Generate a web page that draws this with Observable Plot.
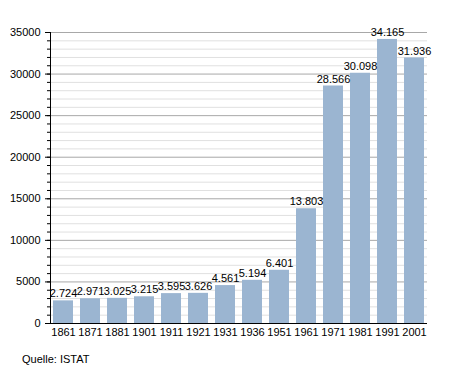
<!DOCTYPE html>
<html><head><meta charset="utf-8">
<script src="https://cdn.jsdelivr.net/npm/d3@7"></script>
<script src="https://cdn.jsdelivr.net/npm/@observablehq/plot@0.6"></script>
<style>
body{margin:0;background:#fff;font-family:"Liberation Sans",Arial,sans-serif;}
#cap{font-size:11px;margin:8px 0 0 22px;color:#000;}
</style></head>
<body><div id="chart"></div><div id="cap">Quelle: ISTAT</div>
<script>
const years = ["1861","1871","1881","1901","1911","1921","1931","1936","1951","1961","1971","1981","1991","2001"];
const population = [2724,2971,3025,3215,3595,3626,4561,5194,6401,13803,28566,30098,34165,31936];
const majorTicks = [0,5000,10000,15000,20000,25000,30000,35000];
const minorTicks = d3.range(0,35001,1000);

const data = years.map((y,i)=>({year:y,value:population[i]}));
const de = d3.formatLocale({thousands:".",grouping:[3],decimal:",",currency:["","€"]});
const fmt = de.format(",");

const chart = Plot.plot({
  width:455, height:345,
  marginLeft:50, marginRight:28, marginTop:32, marginBottom:22,
  style:{fontFamily:"Liberation Sans, Arial, sans-serif", fontSize:"11px", background:"#fff", color:"#000"},
  x:{domain:years, paddingInner:0.25, paddingOuter:0.03, label:null},
  y:{domain:[0,35000], label:null},
  marks:[
    Plot.ruleY(minorTicks.filter(d=>d%5000!==0), {stroke:"#e0e0e0", strokeWidth:1}),
    Plot.ruleY(majorTicks, {stroke:"#a8a8a8", strokeWidth:1}),
    Plot.barY(data, {x:"year", y:"value", fill:"#9bb5d1"}),
    Plot.text(data, {x:"year", y:"value", text:d=>fmt(d.value), dy:-7, fill:"#000", fontSize:11}),
    Plot.axisY({ticks:minorTicks, tickSize:3, tickFormat:()=>"" , label:null}),
    Plot.axisY({ticks:majorTicks, tickSize:5, tickPadding:5, tickFormat:d=>String(d), label:null, fontSize:11}),
    Plot.axisX({tickSize:0, tickPadding:5, label:null, fontSize:11}),
    Plot.ruleY([0], {stroke:"#000"}),
    Plot.frame({anchor:"left", stroke:"#000"})
  ]
});
document.getElementById("chart").appendChild(chart);
</script></body></html>
